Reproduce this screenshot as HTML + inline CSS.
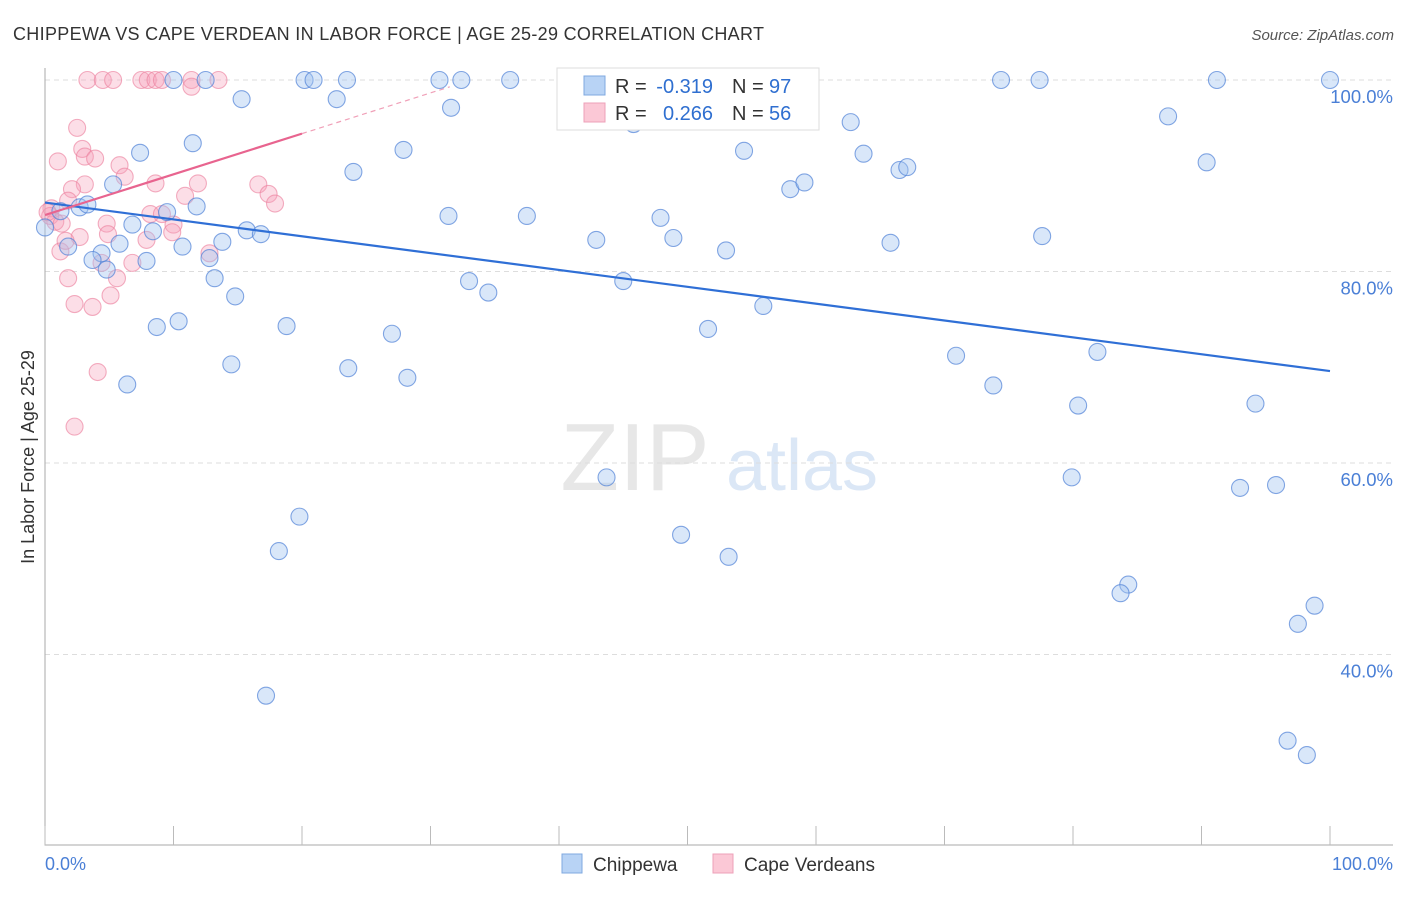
<!DOCTYPE html>
<html><head><meta charset="utf-8"><style>
body{margin:0;background:#fff;font-family:"Liberation Sans",sans-serif}
svg text{font-family:"Liberation Sans",sans-serif}
</style></head><body>
<svg id="c" width="1406" height="892" xmlns="http://www.w3.org/2000/svg">
<text x="13" y="40" font-size="18" fill="#333" textLength="751">CHIPPEWA VS CAPE VERDEAN IN LABOR FORCE | AGE 25-29 CORRELATION CHART</text>
<text x="1394" y="40" font-size="15" fill="#555" text-anchor="end" font-style="italic">Source: ZipAtlas.com</text>
<g opacity="0.35">
<text x="635" y="490" font-size="96" fill="#bbb" text-anchor="middle" font-family="Liberation Serif">ZIP</text>
<text x="802" y="490" font-size="72" fill="#9bbbe6" text-anchor="middle">atlas</text>
</g>
<g id="grid"></g><g id="marks"></g>
<text transform="translate(34,457) rotate(-90)" font-size="18" fill="#333" text-anchor="middle">In Labor Force | Age 25-29</text>
<text x="45" y="870" font-size="18" fill="#4a7fd6">0.0%</text>
<text x="1393" y="870" font-size="18" fill="#4a7fd6" text-anchor="end">100.0%</text>
<g>
<rect x="557" y="68" width="262" height="62" fill="#fff" stroke="#ddd"/>
<rect x="584" y="76" width="21" height="19" fill="#b8d3f5" stroke="#7fa8e0"/>
<rect x="584" y="103" width="21" height="19" fill="#fbc8d6" stroke="#eea0b8"/>
<text x="615" y="93" font-size="20" fill="#333">R =</text>
<text x="713" y="93" font-size="20" fill="#2f6fd0" text-anchor="end">-0.319</text>
<text x="732" y="93" font-size="20" fill="#333">N =</text>
<text x="769" y="93" font-size="20" fill="#2f6fd0">97</text>
<text x="615" y="120" font-size="20" fill="#333">R =</text>
<text x="713" y="120" font-size="20" fill="#2f6fd0" text-anchor="end">0.266</text>
<text x="732" y="120" font-size="20" fill="#333">N =</text>
<text x="769" y="120" font-size="20" fill="#2f6fd0">56</text>
</g>
<g>
<rect x="562" y="854" width="20" height="19" fill="#b8d3f5" stroke="#7fa8e0"/>
<text x="593" y="871" font-size="19" fill="#333">Chippewa</text>
<rect x="713" y="854" width="20" height="19" fill="#fbc8d6" stroke="#eea0b8"/>
<text x="744" y="871" font-size="19" fill="#333">Cape Verdeans</text>
</g>
</svg>
<script>
const yTicks=[100,80,60,40];
const yTickLabels=["100.0%","80.0%","60.0%","40.0%"];
const xTicks=[0,10,20,30,40,50,60,70,80,90,100];
const blueX=[0,1.2,2.7,3.3,5.3,7.4,11.5,10,12.5,15.3,20.2,20.9,22.7,23.5,30.7,32.4,36.2,31.6,24,27.9,31.4,37.5,42.9,45.8,47.9,48.9,54.4,58,59.1,62.7,63.7,66.5,67.1,65.8,53,74.4,77.4,91.2,100,87.4,90.4,77.6,6.8,9.5,11.8,8.4,5.8,1.8,4.4,3.7,4.8,7.9,10.7,12.8,13.8,15.7,16.8,13.2,14.8,33,34.5,45,55.9,51.6,10.4,8.7,18.8,27,14.5,23.6,28.2,6.4,70.9,81.9,73.8,80.4,94.2,43.7,79.9,93,95.8,19.8,49.5,53.2,18.2,84.3,83.7,98.8,97.5,17.2,96.7,98.2,49.8,46.3];
const blueY=[84.6,86.3,86.7,87,89.1,92.4,93.4,100,100,98,100,100,98,100,100,100,100,97.1,90.4,92.7,85.8,85.8,83.3,95.4,85.6,83.5,92.6,88.6,89.3,95.6,92.3,90.6,90.9,83,82.2,100,100,100,100,96.2,91.4,83.7,84.9,86.2,86.8,84.2,82.9,82.6,81.9,81.2,80.2,81.1,82.6,81.4,83.1,84.3,83.9,79.3,77.4,79,77.8,79,76.4,74,74.8,74.2,74.3,73.5,70.3,69.9,68.9,68.2,71.2,71.6,68.1,66,66.2,58.5,58.5,57.4,57.7,54.4,52.5,50.2,50.8,47.3,46.4,45.1,43.2,35.7,31,29.5,100,99.2];
const pinkX=[3.3,4.5,5.3,7.5,8,8.6,9.1,11.4,13.5,11.4,2.5,2.9,3.1,3.9,1,5.8,6.2,3.1,2.1,1.8,8.6,11.9,10.9,16.6,17.4,17.9,0.5,8.2,9.1,4.8,4.9,10,9.9,7.9,1.2,2.7,12.8,4.4,6.8,5.6,1.8,5.1,2.3,3.7,4.1,2.3,0.4,0.8,0.2,1.3,1.6];
const pinkY=[100,100,100,100,100,100,100,100,100,99.3,95,92.8,92,91.8,91.5,91.1,89.9,89.1,88.6,87.4,89.2,89.2,87.9,89.1,88.1,87.1,86.6,86,86,85,83.9,84.9,84.1,83.3,82.1,83.6,81.9,80.9,80.9,79.3,79.3,77.5,76.6,76.3,69.5,63.8,85.8,85.2,86.2,85,83.2];
const blueTrend=[87.2,69.6];
const pinkTrend=[85.9,94.4];
const X=v=>45+v*12.85, Y=v=>1037.5-v*9.575;
const NS="http://www.w3.org/2000/svg";
function mk(p,t,a){const e=document.createElementNS(NS,t);for(const k in a)e.setAttribute(k,a[k]);p.appendChild(e);return e;}
const g=document.getElementById('grid'), m=document.getElementById('marks');
yTicks.forEach((t,i)=>{
 const l=mk(g,'line',{x1:45,x2:1393,y1:Y(t),y2:Y(t),stroke:'#ddd','stroke-dasharray':'5,4'});
 
 
 const tx=mk(g,'text',{x:1393,y:Y(t)+23,'font-size':18.5,fill:'#4a7fd6','text-anchor':'end'});
 tx.textContent=yTickLabels[i];
 
 
});
const ax=mk(g,'path',{d:'M45 68V845H1393',stroke:'#aaa',fill:'none'});


xTicks.forEach(t=>{
 const l=mk(g,'line',{x1:X(t),x2:X(t),y1:826,y2:845,stroke:'#bbb'});
 
 
});
pinkX.forEach((x,i)=>{
 const c=mk(m,'circle',{cx:X(x),cy:Y(pinkY[i]),r:8.5,fill:'rgba(246,160,185,0.35)',stroke:'rgba(236,130,160,0.65)','stroke-width':1.1});
 
 
});
blueX.forEach((x,i)=>{
 const c=mk(m,'circle',{cx:X(x),cy:Y(blueY[i]),r:8.5,fill:'rgba(160,195,240,0.4)',stroke:'rgba(80,130,215,0.7)','stroke-width':1.1});
 
 
});
const bt=mk(m,'line',{x1:X(0),y1:Y(blueTrend[0]),x2:X(100),y2:Y(blueTrend[1]),stroke:'#2f6fd6','stroke-width':2.2});


const ps=(pinkTrend[1]-pinkTrend[0])/20;
const pt=mk(m,'line',{x1:X(0),y1:Y(pinkTrend[0]),x2:X(20),y2:Y(pinkTrend[1]),stroke:'#e8648f','stroke-width':2.2});


const pd=mk(m,'line',{x1:X(20),y1:Y(pinkTrend[1]),x2:X(31.5),y2:Y(pinkTrend[0]+ps*31.5),stroke:'#f0a0b8','stroke-width':1.2,'stroke-dasharray':'5,4'});


</script>
</body></html>
